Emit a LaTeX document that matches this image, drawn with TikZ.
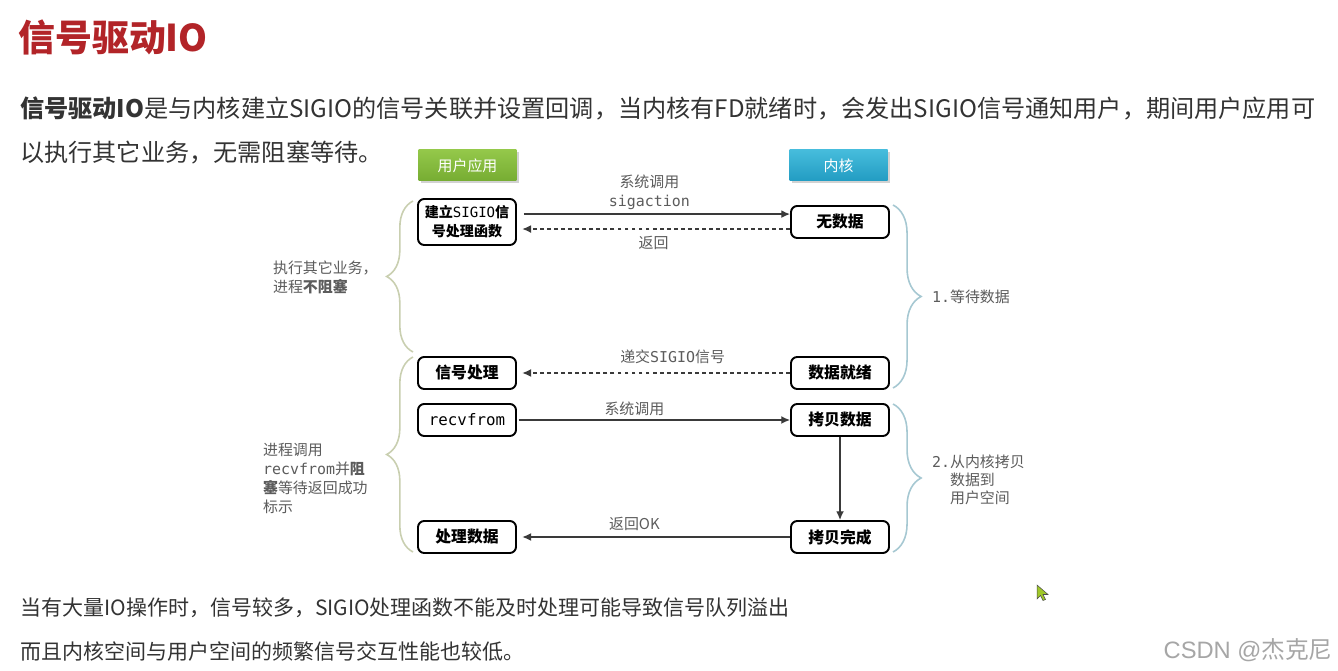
\documentclass[tikz,border=0pt]{standalone}
\usepackage{fontspec}
\setmainfont{Noto Sans CJK SC}
\setmonofont{DejaVu Sans Mono}
\newfontfamily\wmfont{Liberation Sans}
\usepackage{xcolor}
\definecolor{sdred}{RGB}{178,36,40}
\definecolor{sdtext}{RGB}{51,51,51}
\definecolor{sdgray}{RGB}{92,92,92}
\definecolor{sdline}{RGB}{58,58,58}
\definecolor{sdgreen}{RGB}{118,172,50}
\definecolor{sdgreenlt}{RGB}{148,200,74}
\definecolor{sdblue}{RGB}{34,156,194}
\definecolor{sdbluelt}{RGB}{70,188,220}
\definecolor{sdolive}{RGB}{201,207,176}
\definecolor{sdteal}{RGB}{166,200,210}
\definecolor{sdcursor}{RGB}{160,200,40}
\usetikzlibrary{arrows.meta,positioning,shadows,decorations.pathreplacing}

\begin{document}
\begin{tikzpicture}[x=0.02cm, y=-0.02cm,
  stepbox/.style={draw=black, line width=1.1pt, rounded corners=3.5pt, minimum width=1.96cm, minimum height=0.64cm, inner sep=1pt, font=\fontsize{9}{11}\selectfont\bfseries},
  head/.style={minimum width=1.96cm, minimum height=0.62cm, text=white, font=\fontsize{8.5}{10}\selectfont, drop shadow={shadow xshift=1.2pt, shadow yshift=-1.2pt, opacity=.35}},
  lbl/.style={text=sdgray, font=\fontsize{8.5}{10.8}\selectfont, inner sep=1pt},
  call/.style={draw=sdline, line width=.8pt, -{Latex[length=5pt,width=4.5pt]}},
  back/.style={call, dash pattern=on 2.2pt off 1.8pt},
  lbrace/.style={draw=sdolive, line width=.9pt, decorate, decoration={brace, amplitude=15pt}},
  rbrace/.style={draw=sdteal, line width=.9pt, decorate, decoration={brace, amplitude=16pt}}]
  \useasboundingbox (0,0) rectangle (1338,671);
  \fill[white] (0,0) rectangle (1338,671);
  % Title and intro
  \node[anchor=west, text=sdred, font=\fontsize{21}{24}\selectfont\bfseries, inner sep=0] (title) at (18,37) {信号驱动IO};
  \node[anchor=west, align=left, text=sdtext, font=\fontsize{13.75}{25.5}\selectfont, inner sep=0] (intro) at (20,130.5) {\textbf{信号驱动IO}是与内核建立SIGIO的信号关联并设置回调，当内核有FD就绪时，会发出SIGIO信号通知用户，期间用户应用可\\以执行其它业务，无需阻塞等待。};
  % Column headers
  \node[head, top color=sdgreenlt, bottom color=sdgreen] (user) at (467.5,165.5) {用户应用};
  \node[head, top color=sdbluelt, bottom color=sdblue] (kernel) at (838.5,165.5) {内核};
  % User side boxes
  \node[stepbox, minimum height=0.92cm, align=center, font=\fontsize{8}{10.8}\selectfont\bfseries] (setup) at (467,222) {建立\texttt{\mdseries SIGIO}信\\号处理函数};
  \node[stepbox] (sighandle) at (467,373) {信号处理};
  \node[stepbox, font=\fontsize{9}{11}\selectfont\ttfamily] (recv) at (467,420) {recvfrom};
  \node[stepbox] (handle) at (467,537) {处理数据};
  % Kernel side boxes
  \node[stepbox] (nodata) at (840,222) {无数据};
  \node[stepbox] (ready) at (840,373) {数据就绪};
  \node[stepbox] (copy) at (840,420) {拷贝数据};
  \node[stepbox] (done) at (840,537) {拷贝完成};
  % Calls and returns
  \draw[call, shorten <=4pt] ([yshift=4.5pt]setup.east) -- node[lbl, above=1.2pt, align=center, pos=.485] {系统调用\\\texttt{sigaction}} ([yshift=4.5pt]setup.east -| nodata.west);
  \draw[back, shorten >=3pt] ([yshift=-4pt]nodata.west) -- node[lbl, below=2.5pt, pos=.5] {返回} ([yshift=-4pt]nodata.west -| setup.east);
  \draw[back, shorten >=3pt] (ready) -- node[lbl, above=3.6pt, pos=.43] {递交\texttt{SIGIO}信号} (sighandle);
  \draw[call, shorten <=1pt] (recv) -- node[lbl, above=1pt, pos=.43] {系统调用} (copy);
  \draw[call] (copy) -- (done);
  \draw[call, shorten >=3pt] (done) -- node[lbl, above=2pt, pos=.57] {返回OK} (handle);
  % Braces
  \draw[lbrace] (413,352) -- (413,201);
  \draw[lbrace] (413,552) -- (413,357);
  \draw[rbrace] (893,205) -- (893,388);
  \draw[rbrace] (893,404) -- (893,552);
  % Side labels
  \node[lbl, anchor=west, align=left] (nonblock) at (271,277.5) {执行其它业务，\\进程\textbf{不阻塞}};
  \node[lbl, anchor=west, align=left] (block) at (261,478.5) {进程调用\\\texttt{recvfrom}并\textbf{阻}\\\textbf{塞}等待返回成功\\标示};
  \node[lbl, anchor=west] (wait) at (930,297) {\texttt{1.}等待数据};
  \node[lbl, anchor=west, align=left, font=\fontsize{8.5}{10.2}\selectfont] (copyphase) at (930,480) {\texttt{2.}从内核拷贝\\\texttt{\phantom{2.}}数据到\\\texttt{\phantom{2.}}用户空间};
  % Footnote
  \node[anchor=west, align=left, text=sdtext, font=\fontsize{11.95}{25.5}\selectfont, inner sep=0] (note) at (20,629.5) {当有大量IO操作时，信号较多，SIGIO处理函数不能及时处理可能导致信号队列溢出\\而且内核空间与用户空间的频繁信号交互性能也较低。};
  % Watermark and pointer
  \node[anchor=east, text=black!35, font=\fontsize{13.5}{15}\selectfont, inner sep=0] (mark) at (1333,650) {{\wmfont CSDN @}杰克尼};
  \filldraw[fill=sdcursor, draw=black!70, line width=.3pt] (1037,585) -- (1037,599) -- (1040.5,595.5) -- (1043,600.5) -- (1045.5,599.5) -- (1043,594.5) -- (1048,594.5) -- cycle;
\end{tikzpicture}
\end{document}
